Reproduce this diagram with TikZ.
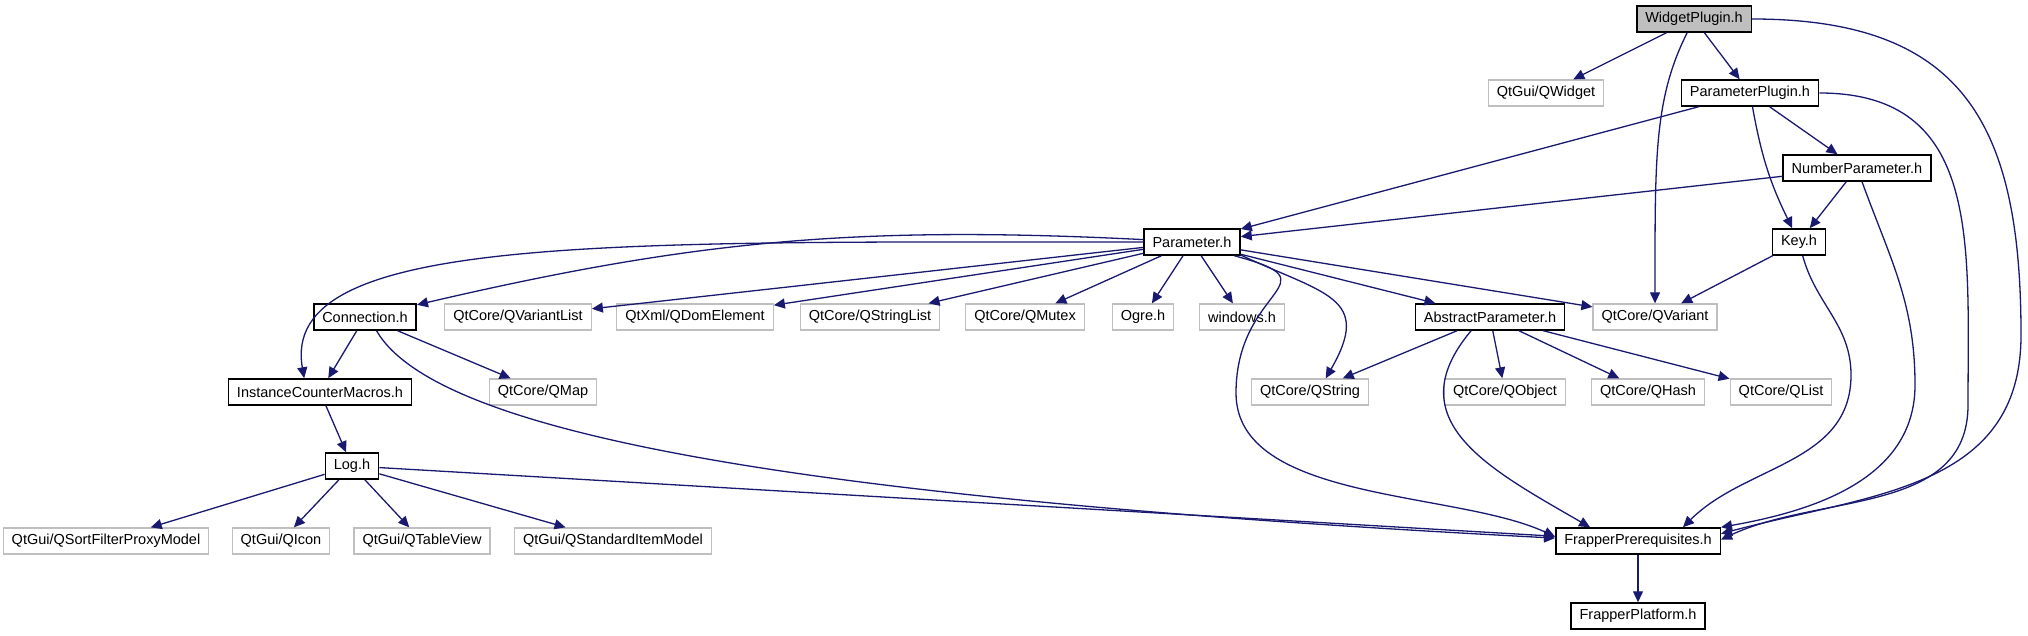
\documentclass[tikz,border=0pt]{standalone}
\usepackage{fontspec}
\setmainfont{Liberation Sans}
\usetikzlibrary{arrows.meta}
\definecolor{edgeblue}{HTML}{191970}
\definecolor{boxgray}{HTML}{BFBFBF}
\tikzset{
  hdr/.style={draw=black, line width=1.5pt, fill=white, minimum height=26pt,
    inner xsep=8.5pt, inner ysep=0pt, font=\fontsize{14.5}{16}\selectfont},
  syshdr/.style={hdr, draw=boxgray, line width=1.3pt},
  mainhdr/.style={hdr, fill=boxgray},
  inc/.style={-{Triangle[length=11pt,width=10pt]}, draw=edgeblue, line width=1.3pt}
}
\begin{document}
\begin{tikzpicture}[x=1pt,y=1pt]
\useasboundingbox (0,0) rectangle (2028,635);

\node[mainhdr] (widget) at (1694,616) {WidgetPlugin.h};
\node[syshdr] (qwidget) at (1546,542) {QtGui/QWidget};
\node[hdr] (pplugin) at (1750,542) {ParameterPlugin.h};
\node[hdr] (numparam) at (1857,467) {NumberParameter.h};
\node[hdr] (key) at (1799,393) {Key.h};
\node[hdr] (param) at (1192,393) {Parameter.h};
\node[hdr] (conn) at (365,318) {Connection.h};
\node[syshdr] (qvarlist) at (518,318) {QtCore/QVariantList};
\node[syshdr] (qdom) at (695,318) {QtXml/QDomElement};
\node[syshdr] (qstrlist) at (870,318) {QtCore/QStringList};
\node[syshdr] (qmutex) at (1025,318) {QtCore/QMutex};
\node[syshdr] (ogre) at (1143,318) {Ogre.h};
\node[syshdr] (windows) at (1242,318) {windows.h};
\node[hdr] (absparam) at (1490,318) {AbstractParameter.h};
\node[syshdr] (qvariant) at (1655,318) {QtCore/QVariant};
\node[hdr] (icmacros) at (320,243) {InstanceCounterMacros.h};
\node[syshdr] (qmap) at (543,243) {QtCore/QMap};
\node[syshdr] (qstring) at (1310,243) {QtCore/QString};
\node[syshdr] (qobject) at (1505,243) {QtCore/QObject};
\node[syshdr] (qhash) at (1648,243) {QtCore/QHash};
\node[syshdr] (qlist) at (1781,243) {QtCore/QList};
\node[hdr] (log) at (352,169) {Log.h};
\node[syshdr] (qsfpm) at (106,94) {QtGui/QSortFilterProxyModel};
\node[syshdr] (qicon) at (281,94) {QtGui/QIcon};
\node[syshdr] (qtview) at (422,94) {QtGui/QTableView};
\node[syshdr] (qsimodel) at (613,94) {QtGui/QStandardItemModel};
\node[hdr] (prereq) at (1638,94) {FrapperPrerequisites.h};
\node[hdr] (platform) at (1638,19) {FrapperPlatform.h};

\coordinate (wpbend) at (2021,300);
\coordinate (ppbend) at (1968,230);
\coordinate (npbend) at (1915,250);
\coordinate (keybend) at (1851,260);
\coordinate (parambend) at (1236,242);

\draw[inc] (widget) -- (qwidget);
\draw[inc] (widget) -- (pplugin);
\draw[inc] (widget) .. controls +(-40,-80) and +(0,160) .. (qvariant);
\draw[inc] (widget.east) to[out=0,in=90,looseness=1.3] (wpbend)
  to[out=-90,in=15,looseness=1.1] (prereq.5);

\draw[inc] (pplugin) -- (param);
\draw[inc] (pplugin) to[bend right=8] (key);
\draw[inc] (pplugin) -- (numparam);
\draw[inc] (pplugin.east) to[out=0,in=90,looseness=1.2] (ppbend)
  to[out=-90,in=25] (prereq.1);

\draw[inc] (numparam) -- (param);
\draw[inc] (numparam) -- (key);
\draw[inc] (numparam) to[out=-70,in=90] (npbend)
  to[out=-90,in=10] (prereq.north east);

\draw[inc] (key) -- (qvariant);
\draw[inc] (key) to[out=-75,in=90] (keybend)
  to[out=-90,in=45] (prereq.17);

\draw[inc] (param) to[bend right=8] (conn);
\draw[inc] (param) -- (qvarlist);
\draw[inc] (param) -- (qdom);
\draw[inc] (param) -- (qstrlist);
\draw[inc] (param) -- (qmutex);
\draw[inc] (param) -- (ogre);
\draw[inc] (param) -- (windows);
\draw[inc] (param) -- (absparam);
\draw[inc] (param) -- (qvariant);
\draw[inc] (param.-15) to[out=-25,in=60,looseness=1.6] (qstring.41);
\draw[inc] (param.west) .. controls +(-540,0) and +(-25,144) .. (icmacros.139);
\draw[inc] (param.-18) to[out=-15,in=90,looseness=2] (parambend)
  to[out=-90,in=155,looseness=0.8] (prereq.177);

\draw[inc] (conn) -- (icmacros);
\draw[inc] (conn) -- (qmap);
\draw[inc] (conn.-50) .. controls +(60,-104) and +(-750,39) .. (prereq.178);

\draw[inc] (icmacros) -- (log);

\draw[inc] (log) -- (qsfpm);
\draw[inc] (log) -- (qicon);
\draw[inc] (log) -- (qtview);
\draw[inc] (log) -- (qsimodel);
\draw[inc] (log) -- (prereq);

\draw[inc] (absparam) -- (qstring);
\draw[inc] (absparam) -- (qobject);
\draw[inc] (absparam) -- (qhash);
\draw[inc] (absparam) -- (qlist);
\draw[inc] (absparam.-144) to[out=-130,in=150,looseness=1.3] (prereq.164);

\draw[inc] (prereq) -- (platform);
\end{tikzpicture}
\end{document}
